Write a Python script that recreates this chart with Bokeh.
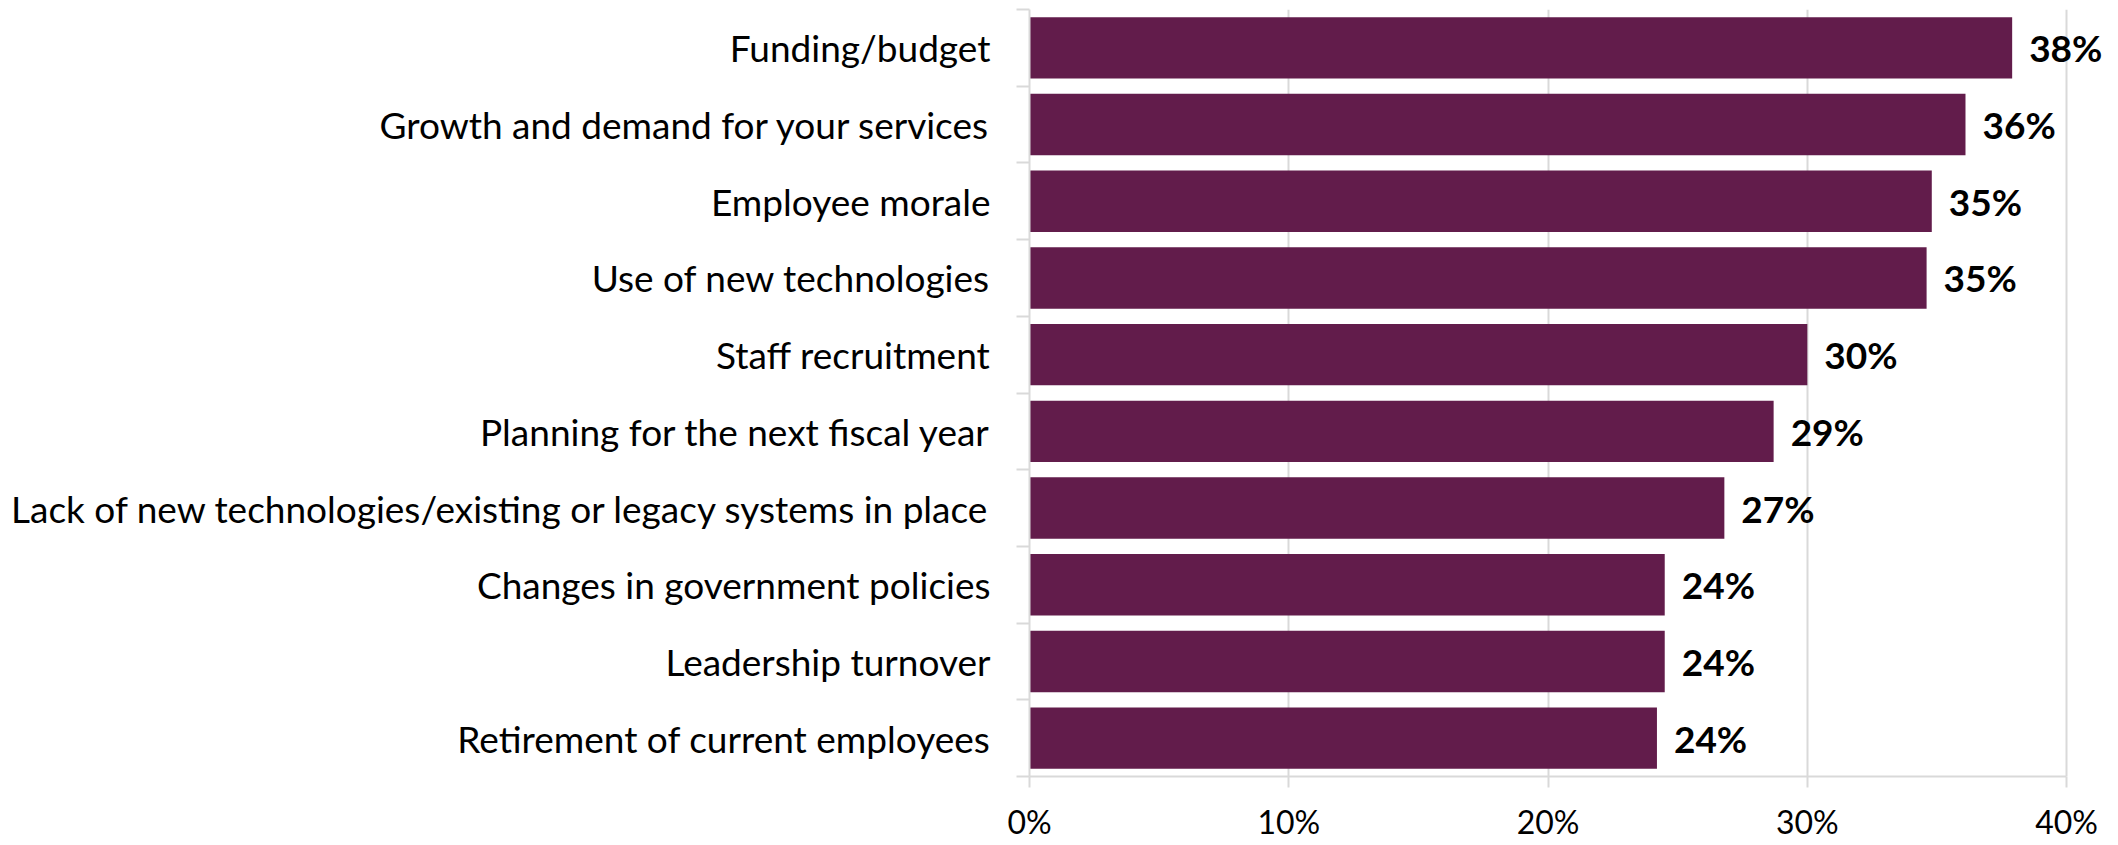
from bokeh.plotting import figure
from bokeh.models import ColumnDataSource, FixedTicker, PrintfTickFormatter, Range1d
from bokeh.core.properties import value
from bokeh.embed import file_html
from bokeh.resources import INLINE

categories = [
    "Funding/budget",
    "Growth and demand for your services",
    "Employee morale",
    "Use of new technologies",
    "Staff recruitment",
    "Planning for the next fiscal year",
    "Lack of new technologies/existing or legacy systems in place",
    "Changes in government policies",
    "Leadership turnover",
    "Retirement of current employees",
]
values = [37.9, 36.1, 34.8, 34.6, 30.0, 28.7, 26.8, 24.5, 24.5, 24.2]
value_labels = ["38%", "36%", "35%", "35%", "30%", "29%", "27%", "24%", "24%", "24%"]
x_ticks = [0, 10, 20, 30, 40]

n = len(categories)
ypos = [n - i - 0.5 for i in range(n)]
boundaries = [float(i) for i in range(n + 1)]

FONT = "Lato"
BAR = "#621C4B"
GRID = "#D9D9D9"

src = ColumnDataSource(dict(y=ypos, v=values, lab=value_labels, cat=categories))

p = figure(width=2108, height=843, output_backend="svg", toolbar_location=None,
           x_range=Range1d(0, 41.5), y_range=Range1d(0, n),
           min_border_left=1029, min_border_right=3, min_border_top=9, min_border_bottom=0)
p.outline_line_color = None
p.background_fill_color = "white"

p.hbar(y="y", right="v", left=0, height=0.8, source=src, fill_color=BAR, line_color=None)
p.text(x="v", y="y", text="lab", source=src, x_offset=17, text_align="left",
       text_baseline="middle", text_font=value(FONT), text_font_style="bold",
       text_font_size="37px", text_color="black")

# x axis
p.xaxis.ticker = FixedTicker(ticks=x_ticks)
p.xaxis.bounds = (0, 40)
p.xaxis.formatter = PrintfTickFormatter(format="%d%%")
p.xaxis.major_label_text_font = FONT
p.xaxis.major_label_text_font_size = "32px"
p.xaxis.major_label_text_color = "black"
p.xaxis.axis_line_color = GRID
p.xaxis.axis_line_width = 2
p.xaxis.major_tick_line_color = GRID
p.xaxis.major_tick_line_width = 2
p.xaxis.major_tick_out = 11
p.xaxis.major_tick_in = 0
p.xaxis.minor_tick_line_color = None
p.xaxis.major_label_standoff = 14

# y axis
p.yaxis.ticker = FixedTicker(ticks=ypos, minor_ticks=boundaries)
p.yaxis.major_label_overrides = {y: c for y, c in zip(ypos, categories)}
p.yaxis.major_label_text_font = FONT
p.yaxis.major_label_text_font_size = "37px"
p.yaxis.major_label_text_color = "black"
p.yaxis.axis_line_color = GRID
p.yaxis.axis_line_width = 2
p.yaxis.major_tick_line_color = None
p.yaxis.major_tick_out = 0
p.yaxis.major_tick_in = 0
p.yaxis.minor_tick_line_color = GRID
p.yaxis.minor_tick_line_width = 2
p.yaxis.minor_tick_out = 13
p.yaxis.minor_tick_in = 0
p.yaxis.major_label_standoff = 26

p.xgrid.ticker = FixedTicker(ticks=x_ticks)
p.xgrid.grid_line_color = GRID
p.xgrid.grid_line_width = 2
p.ygrid.grid_line_color = None

open("out.html", "w").write(file_html(p, INLINE))
